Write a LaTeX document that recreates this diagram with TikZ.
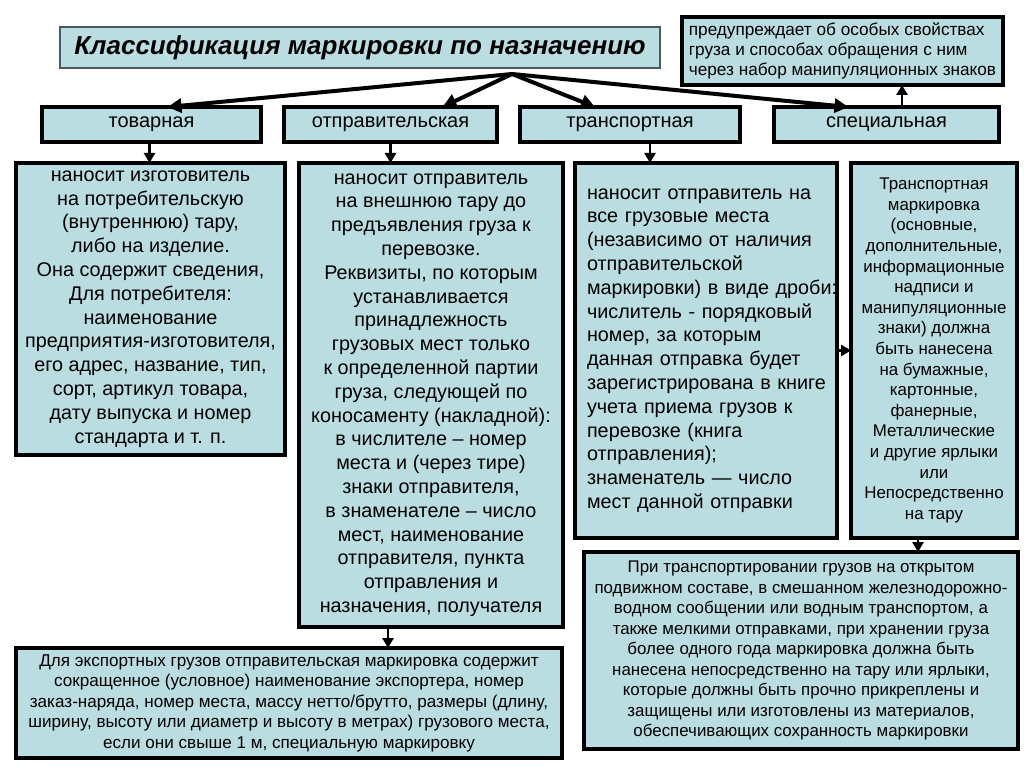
\documentclass[tikz,border=0pt]{standalone}
\usepackage{fontspec}
\setmainfont{Liberation Sans}
\usepackage{tikz}
\usetikzlibrary{arrows.meta}
\definecolor{boxfill}{HTML}{BADDE1}
\definecolor{titleline}{HTML}{4A5A5E}

\begin{document}
\begin{tikzpicture}[x=1pt, y=-1pt,
    card/.style={draw=black, line width=3.5pt, fill=boxfill, inner sep=2pt, outer sep=0pt, align=center},
    cat/.style={card, minimum height=35pt, font=\fontsize{20}{22}\selectfont},
    body/.style={card, font=\fontsize{19.8}{23.8}\selectfont},
    small/.style={card, font=\fontsize{16.9}{20.5}\selectfont},
    link/.style={-{Triangle[length=14pt, width=14pt]}, line width=4pt},
    down/.style={-{Triangle[length=10pt, width=11pt]}, line width=2.5pt}]
  \useasboundingbox (0,0) rectangle (1024,767);
  \node[draw=titleline, line width=1.2pt, fill=boxfill, minimum width=600pt, minimum height=41pt, font=\fontsize{26}{30}\selectfont\bfseries\itshape] (title) at (360,47.5) {Классификация маркировки по назначению};
  \node[card, align=left, minimum width=321pt, minimum height=68pt, font=\fontsize{17.2}{20}\selectfont] (warn) at (842.5,51) {предупреждает об особых свойствах\\груза и способах обращения с ним\\через набор манипуляционных знаков};
  \node[cat, minimum width=219pt] (tov) at (151.5,124.5) {товарная};
  \node[cat, minimum width=213pt] (otp) at (390.5,124.5) {отправительская};
  \node[cat, minimum width=220pt] (tra) at (630,124.5) {транспортная};
  \node[cat, minimum width=225pt] (spe) at (886.5,124.5) {специальная};
  \coordinate (hub) at (512,74);
  \draw[link] (hub) -- ([xshift=16pt]tov.north);
  \draw[link] (hub) -- ([xshift=52pt]otp.north);
  \draw[link] (hub) -- ([xshift=-35pt]tra.north);
  \draw[link] (hub) -- ([xshift=-38pt]spe.north);
  \draw[down] ([xshift=15.5pt]spe.north) -- ([xshift=15.5pt]spe.north |- warn.south);
  \node[body, minimum width=269pt, minimum height=292pt] (b1) at (150.5,309) {наносит изготовитель\\на потребительскую\\(внутреннюю) тару,\\либо на изделие.\\Она содержит сведения,\\Для потребителя:\\наименование\\предприятия-изготовителя,\\его адрес, название, тип,\\сорт, артикул товара,\\дату выпуска и номер\\стандарта и т. п.};
  \node[body, minimum width=264pt, minimum height=464pt] (b2) at (431,395) {наносит отправитель\\на внешнюю тару до\\предъявления груза к\\перевозке.\\Реквизиты, по которым\\устанавливается\\принадлежность\\грузовых мест только\\к определенной партии\\груза, следующей по\\коносаменту (накладной):\\в числителе – номер\\места и (через тире)\\знаки отправителя,\\в знаменателе – число\\мест, наименование\\отправителя, пункта\\отправления и\\назначения, получателя};
  \node[body, align=left, text width=238pt, inner xsep=12pt, minimum height=375pt] (b3) at (706,350.5) {наносит~отправитель~на\\все грузовые места\\(независимо~от~наличия\\отправительской\\маркировки)~в~виде~дроби:\\числитель~-~порядковый\\номер, за которым\\данная~отправка~будет\\зарегистрирована~в~книге\\учета~приема~грузов~к\\перевозке (книга\\отправления);\\знаменатель~—~число\\мест~данной~отправки};
  \node[card, font=\fontsize{16.9}{20.6}\selectfont, minimum width=166pt, minimum height=375pt] (b4) at (934,350.5) {Транспортная\\маркировка\\(основные,\\дополнительные,\\информационные\\надписи и\\манипуляционные\\знаки) должна\\быть нанесена\\на бумажные,\\картонные,\\фанерные,\\Металлические\\и другие ярлыки\\или\\Непосредственно\\на тару};
  \node[small, font=\fontsize{17.1}{20.5}\selectfont, minimum width=546pt, minimum height=110pt] (b5) at (289,703) {Для экспортных грузов отправительская маркировка содержит\\сокращенное (условное) наименование экспортера, номер\\заказ-наряда, номер места, массу нетто/брутто, размеры (длину,\\ширину, высоту или диаметр и высоту в метрах) грузового места,\\если они свыше 1 м, специальную маркировку};
  \node[small, minimum width=434pt, minimum height=197pt] (b6) at (801,650.5) {При транспортировании грузов на открытом\\подвижном составе, в смешанном железнодорожно-\\водном сообщении или водным транспортом, а\\также мелкими отправками, при хранении груза\\более одного года маркировка должна быть\\нанесена непосредственно на тару или ярлыки,\\которые должны быть прочно прикреплены и\\защищены или изготовлены из материалов,\\обеспечивающих сохранность маркировки};
  \draw[down] ([xshift=-2pt]tov.south) -- ([xshift=-2pt]tov.south |- b1.north);
  \draw[down] (otp.south) -- (otp.south |- b2.north);
  \draw[down] ([xshift=20pt]tra.south) -- ([xshift=20pt]tra.south |- b3.north);
  \draw[down] (b3.east) -- (b4.west);
  \draw[down] ([xshift=-16pt]b4.south) -- ([xshift=-16pt]b4.south |- b6.north);
  \draw[down] ([xshift=-43pt]b2.south) -- ([xshift=-43pt]b2.south |- b5.north);
\end{tikzpicture}
\end{document}
